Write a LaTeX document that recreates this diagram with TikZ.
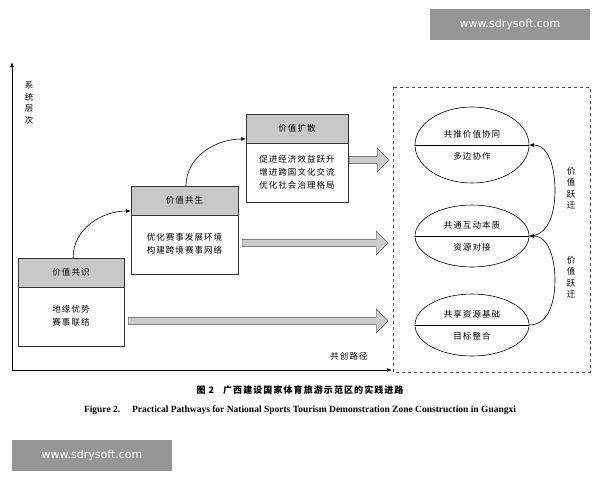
\documentclass[tikz,border=0pt]{standalone}
\usepackage{fontspec}
\setmainfont{Liberation Serif}
\newfontfamily\cjk[LetterSpace=12]{Noto Sans CJK SC}
\usetikzlibrary{shapes.arrows,arrows.meta}
\definecolor{hdgray}{RGB}{200,200,200}
\definecolor{arrgray}{RGB}{205,205,205}
\definecolor{wmgray}{RGB}{150,150,150}
\tikzset{
  cn/.style={font=\cjk\fontsize{8.5}{13}\selectfont},
  stepbody/.style={draw=black!80,fill=white,line width=0.6pt},
  stephead/.style={draw=black!80,fill=hdgray,line width=0.6pt},
  fat/.style={single arrow,draw=black!70,fill=arrgray,minimum height=#1,
    minimum width=24pt,single arrow head extend=5pt,inner sep=2pt,anchor=west},
  vtext/.style={cn,align=center,font=\cjk\fontsize{8.5}{11.5}\selectfont},
  wm/.style={fill=wmgray,text=white,font=\fontspec{DejaVu Sans}\fontsize{11}{13}\selectfont,
    minimum width=160pt,minimum height=31pt}
}
\begin{document}
\begin{tikzpicture}[x=1pt,y=-1pt]
\useasboundingbox[fill=white] (0,0) rectangle (600,480);
% axes
\draw[-{Latex[length=5pt]},line width=0.7pt] (12,370) -- (12,62);
\draw[-{Latex[length=5pt]},line width=0.7pt] (12,370) -- (392,370);
\node[vtext] (ylab) at (29,103) {系\\统\\层\\次};
\node[cn] (xlab) at (349,356) {共创路径};
% step boxes
\fill[stepbody] (18,258) rectangle (124,346);
\draw[stephead] (18,258) rectangle (124,287);
\node[cn] (h1) at (71,272) {价值共识};
\node[cn,align=center] (b1) at (71,316) {地缘优势\\赛事联结};
\fill[stepbody] (131,186) rectangle (238,274);
\draw[stephead] (131,186) rectangle (238,215);
\node[cn] (h2) at (184.5,200) {价值共生};
\node[cn,align=center] (b2) at (184.5,244) {优化赛事发展环境\\构建跨境赛事网络};
\fill[stepbody] (246,114) rectangle (348,202);
\draw[stephead] (246,114) rectangle (348,143);
\node[cn] (h3) at (297,128) {价值扩散};
\node[cn,align=center] (b3) at (297,172) {促进经济效益跃升\\增进跨国文化交流\\优化社会治理格局};
% curved links
\coordinate (c1) at (73,258);
\coordinate (c2) at (131,211);
\coordinate (c3) at (186,186);
\coordinate (c4) at (246,139);
\draw[-{Latex[length=5pt]},line width=0.6pt] (c1) to[out=90,in=180] (c2);
\draw[-{Latex[length=5pt]},line width=0.6pt] (c3) to[out=90,in=180] (c4);
% fat arrows
\node[fat=40pt] (a3) at (349,160) {};
\node[fat=146pt] (a2) at (242,243) {};
\node[fat=260pt] (a1) at (128,321) {};
% result frame
\draw[dashed,black!70,line width=0.6pt] (393,87) rectangle (590,372);
\foreach \n/\y/\r/\t/\b in {e1/145/38/共推价值协同/多边协作,
                             e2/236/31/共通互动本质/资源对接,
                             e3/325/31/共享资源基础/目标整合}{
  \draw[line width=0.6pt] (472,\y) ellipse (57 and \r);
  \draw[line width=0.6pt] (415,\y) -- (529,\y);
  \coordinate (\n) at (529,\y);
  \node[cn] (\n t) at (472,\y-11) {\t};
  \node[cn] (\n b) at (472,\y+11) {\b};
}
\draw[-{Latex[length=5pt]},line width=0.6pt] (e3) to[out=0,in=-90] (555,280) to[out=90,in=0] (e2);
\draw[-{Latex[length=5pt]},line width=0.6pt] (e2) to[out=0,in=-90] (555,190) to[out=90,in=0] (e1);
\node[vtext] (j1) at (571,188) {价\\值\\跃\\迁};
\node[vtext] (j2) at (571,277) {价\\值\\跃\\迁};
% caption
\node[font=\cjk\bfseries\fontsize{9}{11}\selectfont] (cap) at (300,390) {图 2\quad 广西建设国家体育旅游示范区的实践进路};
\node[font=\bfseries\fontsize{9.5}{11}\selectfont] (capen) at (300,410) {Figure 2.\quad\ Practical Pathways for National Sports Tourism Demonstration Zone Construction in Guangxi};
% watermarks
\node[wm] (wm1) at (510,24) {www.sdrysoft.com};
\node[wm] (wm2) at (92,455) {www.sdrysoft.com};
\end{tikzpicture}
\end{document}
